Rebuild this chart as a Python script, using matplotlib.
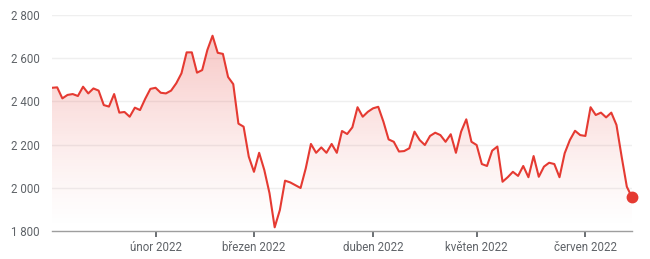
import numpy as np
import matplotlib
matplotlib.use("Agg")
import matplotlib.pyplot as plt
from matplotlib.patches import Polygon

# Daily closes (trading days from early Jan 2022 to mid Jun 2022)
values = [2463, 2465, 2414, 2430, 2434, 2425, 2468, 2437, 2460, 2450,
          2383, 2376, 2434, 2348, 2351, 2329, 2371, 2360, 2412, 2458,
          2463, 2440, 2437, 2450, 2484, 2530, 2627, 2627, 2533, 2545,
          2638, 2704, 2625, 2620, 2513, 2480, 2297, 2283, 2144, 2074,
          2162, 2082, 1975, 1817, 1897, 2033, 2025, 2012, 1999, 2090,
          2203, 2162, 2187, 2162, 2203, 2162, 2263, 2249, 2280, 2373,
          2329, 2352, 2368, 2375, 2306, 2224, 2213, 2168, 2170, 2183,
          2260, 2221, 2198, 2240, 2255, 2244, 2213, 2248, 2162, 2260,
          2317, 2213, 2198, 2110, 2101, 2172, 2191, 2028, 2049, 2074,
          2055, 2101, 2049, 2147, 2051, 2098, 2116, 2110, 2049, 2160,
          2221, 2264, 2244, 2240, 2373, 2337, 2348, 2326, 2348, 2291,
          2144, 2005, 1956]
month_tick_idx = [20, 39, 62, 82, 103]
month_labels = ["únor 2022", "březen 2022", "duben 2022", "květen 2022", "červen 2022"]
y_ticks = [1800, 2000, 2200, 2400, 2600, 2800]
y_labels = ["1 800", "2 000", "2 200", "2 400", "2 600", "2 800"]

plt.rcParams['font.family'] = ['Roboto', 'DejaVu Sans']

W, H = 650, 259
fig = plt.figure(figsize=(W / 100, H / 100), dpi=100)
ax = fig.add_axes([52 / W, 1 - 231 / H, (632 - 52) / W, (231 - 15) / H])

x = np.arange(len(values))
y = np.array(values, dtype=float)
line_color = "#e53a32"
ymin, ymax = 1800, 2800

ax.set_xlim(0, len(values) - 1)
ax.set_ylim(ymin, ymax)

# gradient fill under the line
grad = np.linspace(0, 1, 256).reshape(-1, 1)
rgba = np.zeros((256, 1, 4))
rgba[..., 0] = 0.898
rgba[..., 1] = 0.227
rgba[..., 2] = 0.196
rgba[..., 3] = 0.32 * grad[:, 0:1] ** 1.3
img = ax.imshow(rgba, aspect='auto', extent=[0, len(values) - 1, ymin, ymax],
                origin='lower', zorder=1, interpolation='bilinear')
poly = Polygon(np.column_stack([np.r_[x, x[-1], x[0]], np.r_[y, ymin, ymin]]),
               closed=True, facecolor='none', edgecolor='none')
ax.add_patch(poly)
img.set_clip_path(poly)

ax.plot(x, y, color=line_color, lw=1.5, zorder=3, solid_joinstyle='round')
ax.plot([x[-1]], [y[-1]], 'o', color=line_color, ms=7.5, zorder=4, clip_on=False)

# grid
for t in y_ticks[1:]:
    ax.axhline(t, color="#efefef", lw=1, zorder=0)

for s in ['top', 'right', 'left']:
    ax.spines[s].set_visible(False)
ax.spines['bottom'].set_color("#9e9e9e")
ax.spines['bottom'].set_linewidth(1)

ax.set_yticks(y_ticks)
ax.set_yticklabels(y_labels)
ax.set_xticks(month_tick_idx)
ax.set_xticklabels(month_labels)
ax.tick_params(axis='y', length=0, pad=9, labelsize=8.3, labelcolor="#5f6368")
ax.tick_params(axis='x', length=4.5, width=1.3, color="#5f6368", pad=3,
               labelsize=8.3, labelcolor="#5f6368")

fig.savefig("out.png", dpi=100, facecolor='white')
